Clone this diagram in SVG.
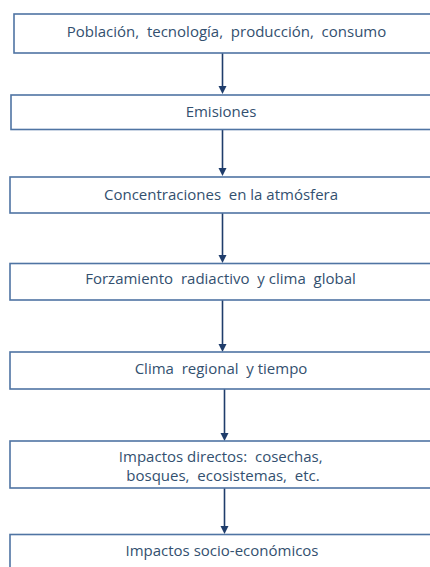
<svg xmlns="http://www.w3.org/2000/svg" width="430" height="567" viewBox="0 0 430 567">
<defs>
<style>
.box{fill:#ffffff;stroke:#4f74a3;stroke-width:1.6}
.lbl{font-family:"Open Sans","Noto Sans",sans-serif;font-size:15px;fill:#33506f;text-anchor:middle;white-space:pre}
.con{stroke:#1f3d6b;stroke-width:1.6;fill:none}
.ah{fill:#1f3d6b}
</style>
</defs>
<rect width="430" height="567" fill="#ffffff"/>
<g id="connectors">
<path class="con" d="M222.5,53 V88"/>
<path class="ah" d="M218.5,86 L226.5,86 L222.5,94 Z"/>
<path class="con" d="M222.5,130 V170"/>
<path class="ah" d="M218.5,168 L226.5,168 L222.5,176 Z"/>
<path class="con" d="M222.5,213 V257"/>
<path class="ah" d="M218.5,255 L226.5,255 L222.5,263 Z"/>
<path class="con" d="M222.5,300 V346"/>
<path class="ah" d="M218.5,344 L226.5,344 L222.5,352 Z"/>
<path class="con" d="M224.5,389 V435"/>
<path class="ah" d="M220.5,433 L228.5,433 L224.5,441 Z"/>
<path class="con" d="M224.5,488 V528"/>
<path class="ah" d="M220.5,526 L228.5,526 L224.5,534 Z"/>
</g>
<g id="n1"><rect class="box" x="14" y="14" width="430" height="39"/><text class="lbl" x="226.5" y="37">Población,  tecnología,  producción,  consumo</text></g>
<g id="n2"><rect class="box" x="11" y="95" width="430" height="34.5"/><text class="lbl" x="221" y="117">Emisiones</text></g>
<g id="n3"><rect class="box" x="10" y="177" width="430" height="36"/><text class="lbl" x="221" y="200">Concentraciones  en la atmósfera</text></g>
<g id="n4"><rect class="box" x="10" y="263.5" width="430" height="36.5"/><text class="lbl" x="220.5" y="284">Forzamiento  radiactivo  y clima  global</text></g>
<g id="n5"><rect class="box" x="10" y="352" width="430" height="37"/><text class="lbl" x="221" y="374">Clima  regional  y tiempo</text></g>
<g id="n6"><rect class="box" x="10" y="441" width="430" height="47"/><text class="lbl" x="220.7" y="461.5">Impactos directos:  cosechas,</text><text class="lbl" x="223" y="481">bosques,  ecosistemas,  etc.</text></g>
<g id="n7"><rect class="box" x="10" y="534.5" width="430" height="40"/><text class="lbl" x="222" y="556">Impactos socio-económicos</text></g>
</svg>
